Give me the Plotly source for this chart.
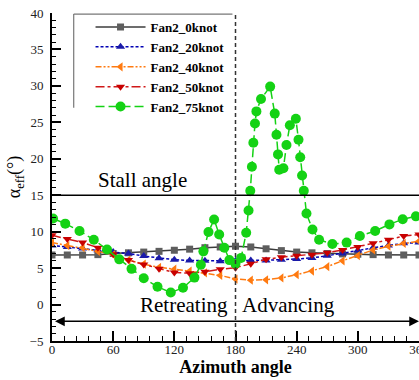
import plotly.graph_objects as go

# ---------------- data ----------------
az15 = [0, 15, 30, 45, 60, 75, 90, 105, 120, 135, 150, 165, 180,
        195, 210, 225, 240, 255, 270, 285, 300, 315, 330, 345, 360]

fan2_0knot = [6.8, 6.8, 6.8, 6.85, 7.0, 7.1, 7.2, 7.3, 7.45, 7.6, 7.8, 7.9, 8.0,
              7.9, 7.65, 7.4, 7.2, 7.1, 7.0, 6.95, 6.9, 6.85, 6.8, 6.8, 6.8]
fan2_20knot = [8.1, 7.9, 7.7, 7.45, 7.2, 7.0, 6.65, 6.35, 6.15, 6.05, 6.0, 5.95, 6.0,
               6.05, 6.05, 6.15, 6.25, 6.4, 6.7, 7.0, 7.4, 7.8, 8.1, 8.4, 8.5]
fan2_40knot = [8.5, 8.1, 7.8, 7.3, 6.85, 6.1, 5.55, 5.1, 4.85, 4.6, 4.35, 4.0, 3.5,
               3.35, 3.4, 3.65, 4.1, 4.6, 5.2, 6.0, 6.7, 7.5, 8.0, 8.4, 8.7]
fan2_50knot = [9.5, 9.0, 8.5, 7.8, 6.9, 6.1, 5.5, 4.9, 4.4, 4.3, 4.5, 4.85, 5.05,
               5.6, 6.2, 6.5, 6.7, 6.85, 7.1, 7.5, 7.9, 8.4, 8.9, 9.4, 9.6]

az75 = [1, 13, 27, 41, 54, 66, 78, 90, 103.5, 116.5, 128.5, 139.7, 146, 148.5,
        153.5, 159, 164, 169, 174, 180, 185.5, 190.5, 192.8, 194.5, 196.1, 197.5,
        199.1, 200.5, 205, 214, 218.5, 220.2, 221.7, 222.9, 227, 230, 233.3,
        239.2, 241.8, 243.5, 245.3, 247, 249.6, 255.5, 262, 275, 289, 302, 317,
        331, 344, 357]
fan2_75knot = [11.8, 11.1, 10.1, 8.9, 7.55, 6.2, 4.9, 3.6, 2.44, 1.65, 2.3, 3.7, 5.45, 7.3,
               9.95, 11.67, 9.6, 7.8, 6.1, 5.6, 6.4, 9.85, 12.9, 15.6, 18.9, 22.2,
               24.85, 26.5, 28.2, 29.9, 26.2, 23.3, 20.6, 18.5, 18.7, 21.9, 24.6,
               25.5, 22.6, 20.2, 17.7, 15.6, 12.5, 10.3, 8.9, 8.3, 8.5, 9.4, 10.1,
               11.0, 11.7, 12.1]

x_ticks = [0, 60, 120, 180, 240, 300, 360]
y_ticks = [-5, 0, 5, 10, 15, 20, 25, 30, 35, 40]
stall_angle = 15
split_angle = 180
arrow_level = -2.3

SERIF = "Liberation Serif, Times New Roman, serif"

fig = go.Figure()

series = [
    ("Fan2_0knot", az15, fan2_0knot, "#3c3c3c", "#5e5e5e", "solid", "square", 7),
    ("Fan2_20knot", az15, fan2_20knot, "#0000b4", "#1a1aa8", "3px,2px", "triangle-up", 8),
    ("Fan2_40knot", az15, fan2_40knot, "#ff7a10", "#ff7a10", "6px,2px,2px,2px,2px,2px", "triangle-left", 8),
    ("Fan2_50knot", az15, fan2_50knot, "#d01818", "#c80000", "dashdot", "triangle-down", 8),
    ("Fan2_75knot", az75, fan2_75knot, "#14d214", "#14d214", "9px,4px", "circle", 10),
]
for name, xs, ys, lc, mc, dash, sym, ms in series:
    fig.add_trace(go.Scatter(
        x=xs, y=ys, name=name, mode="lines+markers",
        line=dict(color=lc, width=1.5, dash=dash),
        marker=dict(color=mc, symbol=sym, size=ms, line=dict(width=0)),
    ))

# reference lines
fig.add_shape(type="line", xref="x", yref="y", x0=0, x1=360, y0=stall_angle, y1=stall_angle,
              line=dict(color="black", width=1.5))
fig.add_shape(type="line", xref="x", yref="y", x0=split_angle, x1=split_angle, y0=-5, y1=40,
              line=dict(color="#333333", width=1.5, dash="4px,3px"))
# legend frame (top + left)
fig.add_shape(type="line", xref="x", yref="y", x0=21.3, x1=177, y0=39.85, y1=39.85,
              line=dict(color="#777777", width=1.2))
fig.add_shape(type="line", xref="x", yref="y", x0=21.3, x1=21.3, y0=39.85, y1=27.0,
              line=dict(color="#777777", width=1.2))

# double arrow
fig.add_annotation(x=360, y=arrow_level, ax=0, ay=arrow_level, xref="x", yref="y",
                   axref="x", ayref="y", text=" ", showarrow=True, arrowhead=2,
                   arrowside="end+start", arrowsize=1.3, arrowwidth=1.5,
                   arrowcolor="black", standoff=0, startstandoff=0)

fig.add_annotation(x=89, y=17.1, xref="x", yref="y", text="Stall angle", showarrow=False,
                   font=dict(family=SERIF, size=21, color="black"))
fig.add_annotation(x=175, y=-0.1, xref="x", yref="y", text="Retreating", showarrow=False,
                   xanchor="right", font=dict(family=SERIF, size=21, color="black"))
fig.add_annotation(x=184, y=-0.1, xref="x", yref="y", text="Advancing", showarrow=False,
                   xanchor="left", font=dict(family=SERIF, size=21, color="black"))

fig.update_xaxes(
    range=[0, 360], tickvals=x_ticks, ticks="inside", ticklen=10, tickwidth=1.5,
    tickcolor="black", showline=True, linecolor="black", linewidth=2,
    showgrid=False, zeroline=False, ticklabeloverflow="allow", automargin=False,
    minor=dict(dtick=12, ticks="inside", ticklen=5, tickwidth=1, tickcolor="black", showgrid=False),
    tickfont=dict(family=SERIF, size=13, color="#222222"),
    ticklabelstandoff=-5,
    title=dict(text="<b>Azimuth angle</b>", font=dict(family=SERIF, size=18, color="black"),
               standoff=5),
)
fig.update_yaxes(
    range=[-5, 40], tickvals=y_ticks, ticks="inside", ticklen=9, tickwidth=1.5,
    tickcolor="black", showline=True, linecolor="black", linewidth=2,
    showgrid=False, zeroline=False, automargin=False,
    minor=dict(dtick=1, ticks="inside", ticklen=4, tickwidth=1, tickcolor="black", showgrid=False),
    tickfont=dict(family=SERIF, size=13, color="#222222"),
    ticklabelstandoff=4,
    title=dict(text="α<sub>eff</sub>(°)", font=dict(family=SERIF, size=18, color="black"),
               standoff=4),
)

fig.update_layout(
    width=419, height=380,
    margin=dict(l=52, r=0, t=13, b=39, autoexpand=False),
    plot_bgcolor="white", paper_bgcolor="white",
    showlegend=True,
    legend=dict(x=0.105, y=1.003, xanchor="left", yanchor="top",
                bgcolor="rgba(0,0,0,0)", borderwidth=0,
                font=dict(family=SERIF, size=13, color="black", weight="bold"),
                itemwidth=50, tracegroupgap=0),
)

fig.write_html("out.html", config={"displayModeBar": False},
               post_script="document.body.style.margin='0';document.body.style.overflow='hidden';")
